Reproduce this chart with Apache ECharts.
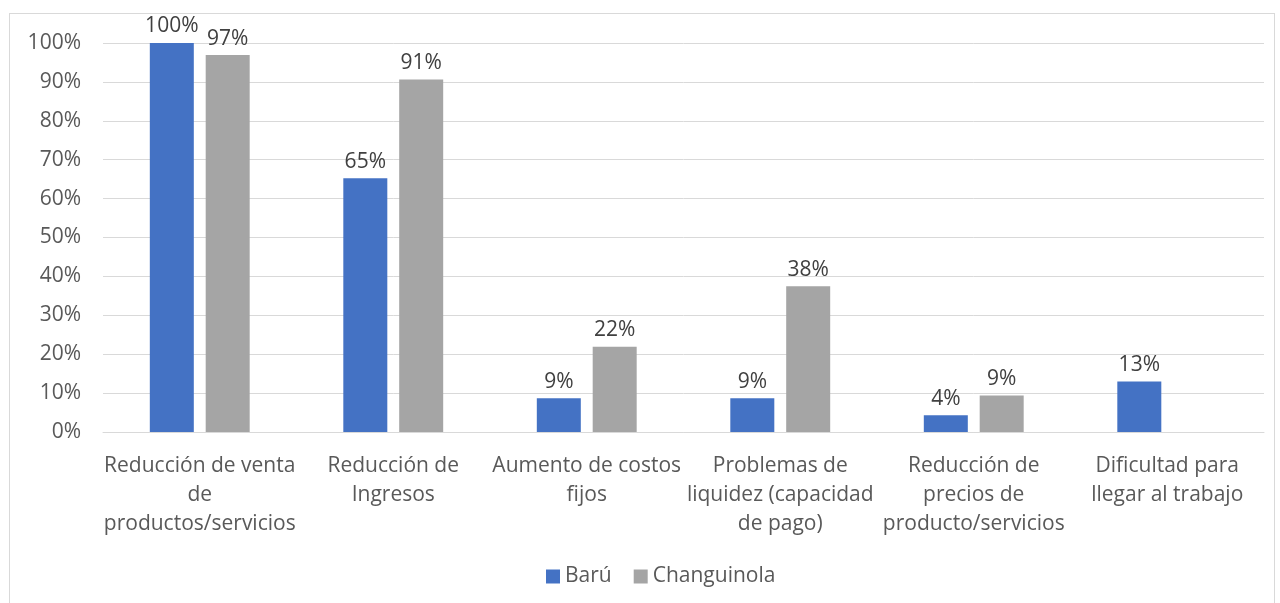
<!DOCTYPE html>
<html>
<head>
<meta charset="utf-8">
<script src="https://cdn.jsdelivr.net/npm/echarts@6/dist/echarts.min.js"></script>
<style>
  html, body { margin: 0; padding: 0; background: #fff; }
  #frame { position: absolute; left: 9px; top: 13px; width: 1266px; height: 600px; border: 1px solid #d9d9d9; box-sizing: border-box; }
  #chart { position: absolute; left: 0; top: 0; width: 1280px; height: 603px; }
</style>
</head>
<body>
<div id="frame"></div>
<div id="chart"></div>
<script>
const categories = [
  'Reducción de venta\nde\nproductos/servicios',
  'Reducción de\nIngresos',
  'Aumento de costos\nfijos',
  'Problemas de\nliquidez (capacidad\nde pago)',
  'Reducción de\nprecios de\nproducto/servicios',
  'Dificultad para\nllegar al trabajo'
]
const baru = [100, 65.2, 8.7, 8.7, 4.3, 13]
const changuinola = [96.9, 90.6, 21.9, 37.5, 9.4, null]
const yTicks = [0, 10, 20, 30, 40, 50, 60, 70, 80, 90, 100]

const font = '"Open Sans", sans-serif'
const myChart = echarts.init(document.getElementById('chart'))

const labelOpt = {
  show: true,
  position: 'top',
  distance: 6,
  color: '#404040',
  fontSize: 21,
  fontFamily: font,
  formatter: p => Math.round(p.value) + '%'
}

myChart.setOption({
  animation: false,
  grid: {
    left: 103,
    right: 16,
    top: 43,
    bottom: 171
  },
  legend: {
    bottom: 11,
    left: 541,
    itemWidth: 14,
    itemHeight: 14,
    itemGap: 22,
    icon: 'rect',
    textStyle: { color: '#595959', fontSize: 21, fontFamily: font },
    data: ['Barú', 'Changuinola']
  },
  xAxis: {
    type: 'category',
    data: categories,
    axisLine: { lineStyle: { color: '#d9d9d9' } },
    axisTick: { show: false },
    axisLabel: {
      color: '#595959',
      fontSize: 21,
      fontFamily: font,
      lineHeight: 29,
      margin: 20,
      interval: 0
    }
  },
  yAxis: {
    type: 'value',
    min: yTicks[0],
    max: yTicks[yTicks.length - 1],
    interval: 10,
    axisLine: { show: false },
    axisTick: { show: false },
    splitLine: { lineStyle: { color: '#d9d9d9', width: 1 } },
    axisLabel: {
      color: '#595959',
      fontSize: 21,
      fontFamily: font,
      margin: 22,
      formatter: v => v + '%'
    }
  },
  series: [
    {
      name: 'Barú',
      type: 'bar',
      data: baru,
      barWidth: 44,
      barGap: '27%',
      itemStyle: { color: '#4472C4' },
      label: labelOpt
    },
    {
      name: 'Changuinola',
      type: 'bar',
      data: changuinola,
      barWidth: 44,
      itemStyle: { color: '#A5A5A5' },
      label: labelOpt
    }
  ]
})

window.onresize = function () {
  myChart.resize()
}
</script>
</body>
</html>
